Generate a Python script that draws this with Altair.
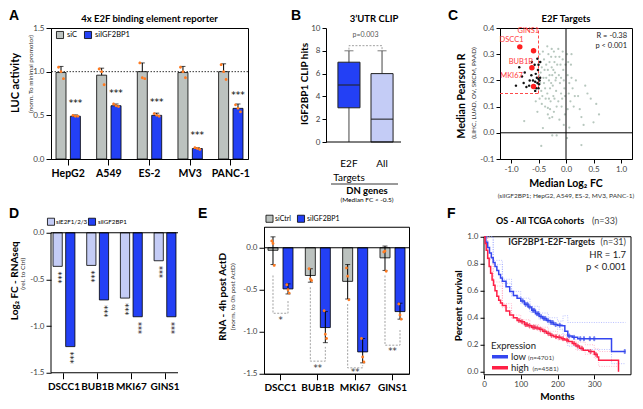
import altair as alt
import pandas as pd

FONT = "Lato"
LETTER_FONT = "Liberation Sans"
BLUE = "#2340f5"
GREY = "#bcc2bf"
LBLUE = "#c4ccf6"
ORANGE = "#ff7b22"
KM_BLUE = "#3446f0"
KM_RED = "#ff1f45"
MINUS = "replace(datum.label, '\u2212', '-')"

# ---------------- Panel A data ----------------
a_cells = ["HepG2", "A549", "ES-2", "MV3", "PANC-1"]
a_conds = ["siC", "siIGF2BP1"]
a_sic = [0.99, 0.96, 1.00, 0.99, 1.00]
a_sic_hi = [1.06, 1.04, 1.10, 1.06, 1.09]
a_sii = [0.49, 0.61, 0.50, 0.12, 0.58]
a_sii_hi = [0.505, 0.63, 0.525, 0.13, 0.63]
a_sic_reps = [[1.05, 1.00, 0.92], [1.03, 1.00, 0.85], [1.10, 0.93, 0.92], [1.05, 1.00, 0.93], [1.08, 1.00, 0.91]]
a_sii_reps = [[0.50, 0.49, 0.49], [0.63, 0.61, 0.60], [0.52, 0.50, 0.49], [0.13, 0.12, 0.11], [0.62, 0.58, 0.54]]
a_sig = ["***"] * 5

# ---------------- Panel B data ----------------
b_cats = ["E2F", "All"]
b_min = [0, 0]
b_q1 = [3, 0]
b_med = [5, 2]
b_q3 = [7, 6]
b_max = [8, 8]
b_bracket_low = 8.1
b_bracket_high = 8.45
b_p_text = "p=0.003"

# ---------------- Panel C data ----------------
c_grey = [
    (-0.48, 0.30), (-0.46, 0.27), (-0.44, 0.25), (-0.49, 0.22), (-0.47, 0.19), (-0.45, 0.16), (-0.43, 0.14),
    (-0.41, 0.21), (-0.40, 0.28), (-0.39, 0.24), (-0.38, 0.17), (-0.37, 0.13), (-0.42, 0.31), (-0.36, 0.26),
    (-0.44, 0.11), (-0.48, 0.13), (-0.40, 0.19), (-0.38, 0.10), (-0.46, 0.23), (-0.36, 0.21),
    (-0.34, 0.33), (-0.32, 0.30), (-0.30, 0.27), (-0.33, 0.24), (-0.31, 0.20), (-0.29, 0.17), (-0.34, 0.15),
    (-0.28, 0.12), (-0.27, 0.29), (-0.26, 0.25), (-0.25, 0.22), (-0.24, 0.18), (-0.23, 0.14), (-0.22, 0.31),
    (-0.21, 0.27), (-0.20, 0.23), (-0.19, 0.20), (-0.18, 0.16), (-0.17, 0.10), (-0.16, 0.26), (-0.29, 0.09),
    (-0.33, 0.07), (-0.25, 0.06), (-0.21, 0.13), (-0.30, 0.22), (-0.27, 0.19), (-0.23, 0.24), (-0.19, 0.29),
    (-0.26, 0.32), (-0.31, 0.13), (-0.22, 0.08), (-0.18, 0.21),
    (-0.14, 0.32), (-0.12, 0.29), (-0.10, 0.26), (-0.13, 0.22), (-0.11, 0.19), (-0.09, 0.15), (-0.14, 0.12),
    (-0.08, 0.10), (-0.06, 0.28), (-0.05, 0.24), (-0.04, 0.20), (-0.03, 0.17), (-0.07, 0.13), (-0.02, 0.07),
    (-0.06, 0.31), (-0.01, 0.26), (-0.12, 0.05), (-0.04, 0.03), (-0.09, 0.21), (-0.02, 0.14),
    (0.02, 0.30), (0.04, 0.27), (0.03, 0.22), (0.06, 0.19), (0.05, 0.15), (0.08, 0.12), (0.10, 0.21),
    (0.12, 0.17), (0.14, 0.10), (0.06, 0.02), (0.09, 0.26), (0.16, 0.14), (0.18, 0.20), (0.03, 0.09),
    (0.22, 0.14), (0.28, 0.06), (0.35, 0.18), (0.39, 0.15), (0.45, 0.13), (0.55, 0.11), (0.60, 0.07),
    (0.50, 0.04), (0.25, 0.09), (0.32, 0.03),
    (-0.76, 0.045), (-0.45, -0.05), (-0.30, 0.056), (-0.33, 0.095), (-0.42, 0.018), (-0.25, -0.01),
    (-0.17, -0.01), (0.28, -0.047), (-0.55, 0.12), (-0.52, 0.08), (-0.57, 0.17), (0.10, 0.30), (0.02, -0.02),
]
c_black = [
    (-0.52, 0.283), (-0.47, 0.27), (-0.50, 0.26), (-0.85, 0.25), (-0.51, 0.24), (-0.75, 0.23), (-0.80, 0.215),
    (-0.55, 0.225), (-0.53, 0.21), (-0.50, 0.205), (-0.48, 0.20), (-0.56, 0.195), (-0.52, 0.19), (-0.49, 0.185),
    (-0.58, 0.18), (-0.91, 0.18), (-0.77, 0.19), (-0.67, 0.18), (-0.56, 0.16), (-0.50, 0.17), (-0.60, 0.20),
    (-0.63, 0.22), (-0.72, 0.175), (-0.54, 0.17), (-0.47, 0.21), (-0.62, 0.27), (-0.57, 0.26), (-0.66, 0.20),
]
c_red_names = ["DSCC1", "GINS1", "BUB1B", "MKI67"]
c_red_x = [-0.84, -0.59, -0.62, -0.59]
c_red_y = [0.328, 0.313, 0.248, 0.177]
c_lab_x = [-0.99, -0.685, -0.82, -0.99]
c_lab_y = [0.354, 0.387, 0.272, 0.215]
c_fc_cut = -0.5
c_r_cut = 0.15

# ---------------- Panel D data ----------------
genes = ["DSCC1", "BUB1B", "MKI67", "GINS1"]
d_conds = ["siE2F1/2/3", "siIGF2BP1"]
d_e2f = [-0.36, -0.35, -0.70, -0.30]
d_igf = [-1.22, -0.72, -0.90, -0.90]

# ---------------- Panel E data ----------------
e_conds = ["siCtrl", "siIGF2BP1"]
e_ctrl = [-0.03, -0.33, -0.40, -0.12]
e_ctrl_lo = [-0.20, -0.41, -0.61, -0.27]
e_ctrl_hi = [0.13, -0.25, -0.20, 0.02]
e_igf = [-0.49, -0.95, -1.24, -0.76]
e_igf_lo = [-0.55, -1.13, -1.37, -0.85]
e_igf_hi = [-0.43, -0.76, -1.08, -0.66]
e_ctrl_reps = [[0.08, 0.05, -0.21], [-0.25, -0.37, -0.39], [-0.24, -0.34, -0.62], [-0.05, -0.04, -0.28]]
e_igf_reps = [[-0.44, -0.50, -0.54], [-0.75, -1.03, -1.08], [-1.08, -1.30, -1.36], [-0.67, -0.80, -0.85]]
e_br_left = [-0.33, -0.47, -0.67, -0.33]
e_br_bottom = [-0.78, -1.35, -1.43, -1.16]
e_br_right = [-0.62, -1.18, -1.40, -0.98]
e_sig = ["*", "**", "**", "**"]
e_sig_y = [-0.86, -1.43, -1.48, -1.23]

# ---------------- Panel F data ----------------
km_low_m = [0, 5, 10, 15, 20, 25, 30, 35, 40, 45, 50, 60, 70, 80, 90, 100, 110, 120, 130, 140, 150, 160, 170,
            180, 190, 200, 212, 220, 228, 240, 255, 347, 385]
km_low_s = [1.0, 0.96, 0.92, 0.88, 0.845, 0.81, 0.78, 0.75, 0.72, 0.695, 0.67, 0.63, 0.595, 0.565, 0.545, 0.525,
            0.50, 0.48, 0.455, 0.43, 0.41, 0.395, 0.38, 0.365, 0.35, 0.345, 0.34, 0.30, 0.265, 0.255, 0.245, 0.15, 0.15]
km_high_m = [0, 3, 6, 10, 14, 18, 22, 26, 30, 35, 40, 45, 50, 60, 70, 80, 90, 100, 110, 120, 130, 140, 150, 160,
             170, 180, 190, 200, 210, 220, 230, 240, 250, 260, 270, 285, 300, 308, 312, 366]
km_high_s = [1.0, 0.95, 0.90, 0.84, 0.78, 0.73, 0.68, 0.64, 0.60, 0.56, 0.53, 0.51, 0.49, 0.45, 0.42, 0.40, 0.38,
             0.37, 0.35, 0.34, 0.33, 0.325, 0.315, 0.30, 0.285, 0.27, 0.26, 0.255, 0.245, 0.235, 0.225, 0.21, 0.19,
             0.175, 0.16, 0.15, 0.13, 0.11, 0.085, 0.0]
ci_low_up_m = [0, 25, 50, 75, 100, 125, 150, 175, 200, 215, 228, 385]
ci_low_up_s = [1.0, 0.825, 0.685, 0.595, 0.545, 0.485, 0.435, 0.40, 0.375, 0.415, 0.365, 0.365]
ci_low_lo_m = [0, 25, 50, 75, 100, 125, 150, 175, 200, 215, 228, 255, 347, 385]
ci_low_lo_s = [1.0, 0.795, 0.655, 0.56, 0.505, 0.44, 0.385, 0.35, 0.315, 0.27, 0.19, 0.165, 0.06, 0.06]
ci_high_m = [0, 10, 25, 50, 75, 100, 125, 150, 175, 200, 225, 250, 275, 300, 312, 366]
ci_high_up_s = [1.0, 0.85, 0.665, 0.505, 0.42, 0.385, 0.35, 0.33, 0.30, 0.275, 0.255, 0.22, 0.20, 0.17, 0.15, 0.15]
ci_high_lo_s = [1.0, 0.83, 0.635, 0.475, 0.395, 0.355, 0.32, 0.295, 0.265, 0.235, 0.21, 0.16, 0.13, 0.10, 0.04, 0.0]
cens_low = [(105, .525), (113, .50), (118, .50), (124, .48), (133, .455), (137, .455), (144, .43), (148, .43),
            (155, .41), (163, .395), (167, .395), (174, .38), (183, .365), (187, .365), (195, .35), (206, .345),
            (232, .265), (245, .255), (262, .245), (272, .245), (288, .245), (300, .245), (383, .15)]
cens_high = [(95, .38), (104, .37), (113, .35), (117, .35), (124, .34), (134, .33), (138, .33), (145, .325),
             (154, .315), (165, .30), (175, .285), (184, .27), (196, .26), (205, .255), (215, .245), (226, .235),
             (245, .21), (255, .19), (266, .175), (290, .15), (304, .13)]
f_groups = ["low", "high"]
f_xmax = 400
f_ymin = -0.022
f_ytop = 1.074


# ---------------- helpers ----------------
def T(text, x, y, size=8, weight="normal", angle=0, align="center", baseline="middle", color="black", font=FONT):
    kw = dict(fontSize=size, fontWeight=weight, align=align, baseline=baseline, color=color, font=font)
    if angle:
        kw["angle"] = angle
    return alt.Chart(pd.DataFrame({"t": [text]})).mark_text(**kw).encode(
        x=alt.value(x), y=alt.value(y), text="t:N")


def SQ(x, y, fill, size=50):
    return alt.Chart(pd.DataFrame({"a": [0]})).mark_square(
        size=size, fill=fill, stroke="black", strokeWidth=0.8, opacity=1).encode(x=alt.value(x), y=alt.value(y))


def HL(x, x2, y, color, width=3.5):
    return alt.Chart(pd.DataFrame({"a": [0]})).mark_rule(color=color, strokeWidth=width).encode(
        x=alt.value(x), x2=alt.value(x2), y=alt.value(y))


def dot_shape(cx, r=0.36):
    # small circle drawn off-centre inside the symbol's unit box (horizontal jitter of replicate dots)
    return f"M {cx - r},0 A {r},{r} 0 1,0 {cx + r},0 A {r},{r} 0 1,0 {cx - r},0 Z"


# ================= Panel A =================
wA, hA = 197, 131
dfA = pd.DataFrame({
    "cell": a_cells * 2,
    "cond": ["siC"] * 5 + ["siIGF2BP1"] * 5,
    "v": a_sic + a_sii,
    "hi": a_sic_hi + a_sii_hi,
    "sig": [""] * 5 + a_sig,
})
dfA_rep = pd.DataFrame([
    {"cell": c, "cond": cond, "r": r, "v": reps[i][r]}
    for cond, reps in (("siC", a_sic_reps), ("siIGF2BP1", a_sii_reps))
    for i, c in enumerate(a_cells) for r in range(3)
])
xA = alt.X("cell:N", sort=a_cells, scale=alt.Scale(paddingInner=0.40, paddingOuter=0.123),
           axis=alt.Axis(title=None, labelAngle=0, labelFontSize=10.5, labelFontWeight="bold",
                         labelColor="black", tickSize=6, labelPadding=3))
xoA = alt.XOffset("cond:N", sort=a_conds, scale=alt.Scale(paddingInner=0.305))


def yA(f):
    return alt.Y(f + ":Q", scale=alt.Scale(domain=[0, 1.5], nice=False),
                 axis=alt.Axis(values=[0, 0.5, 1.0, 1.5], format=".1f", title=None, tickSize=5, labelPadding=2))


cA = alt.Color("cond:N", sort=a_conds, scale=alt.Scale(domain=a_conds, range=[GREY, BLUE]), legend=None)

A = alt.layer(
    alt.Chart(pd.DataFrame({"ref": [1.0]})).mark_rule(color="black", strokeWidth=0.8, strokeDash=[1.5, 1.5]).encode(y=yA("ref")),
    alt.Chart(dfA).mark_bar(stroke="black", strokeWidth=0.8).encode(x=xA, xOffset=xoA, y=yA("v"), y2=alt.datum(0), color=cA),
    alt.Chart(dfA).mark_rule(color="black", strokeWidth=1).encode(x=xA, xOffset=xoA, y=yA("v"), y2="hi:Q"),
    alt.Chart(dfA).mark_tick(color="black", thickness=1, size=5).encode(x=xA, xOffset=xoA, y=yA("hi")),
    *[alt.Chart(dfA_rep).transform_filter(alt.datum.r == r).mark_point(
        shape=dot_shape(cx), size=64, filled=True, color=ORANGE, opacity=1, strokeWidth=0).encode(
        x=xA, xOffset=xoA, y=yA("v"))
      for r, cx in zip(range(3), (-0.62, 0, 0.62))],
    alt.Chart(dfA).transform_filter(alt.datum.cond == "siIGF2BP1").transform_calculate(sy="datum.v + 0.15").mark_text(
        fontSize=9, font="DejaVu Sans", baseline="middle").encode(x=xA, xOffset=xoA, y=yA("sy"), text="sig:N"),
    SQ(9, 7, GREY), T("siC", 16, 7, size=7.5, align="left"),
    SQ(37, 7, BLUE), T("siIGF2BP1", 44, 7, size=7.5, align="left"),
    T("4x E2F binding element reporter", wA / 2, -9, size=9.5, weight="bold"),
    T("LUC activity", -35, 55, size=11, weight="bold", angle=270),
    T("(norm. To minimal promotor)", -20, 46, size=6.3, angle=270, color="#333"),
    T("A", -42, -19, size=14, weight="bold", align="left", baseline="top", font=LETTER_FONT),
).properties(width=wA, height=hA)

# ================= Panel B =================
wB, hB = 96, 114
dfB = pd.DataFrame({"cat": b_cats, "lo": b_min, "q1": b_q1, "med": b_med, "q3": b_q3, "hi": b_max})
dfB_br = pd.DataFrame({"cat": ["E2F", "E2F", "All", "All"],
                       "y": [b_bracket_low, b_bracket_high, b_bracket_high, b_bracket_low], "o": [0, 1, 2, 3]})
xB = alt.X("cat:N", sort=b_cats, scale=alt.Scale(range=[2, 77], paddingInner=0.333, paddingOuter=0.30),
           axis=alt.Axis(title=None, labelAngle=0, domain=False, ticks=False, labelPadding=16,
                         labelFontSize=10, labelColor="black"))


def yB(f):
    return alt.Y(f + ":Q", scale=alt.Scale(domain=[0, 10], nice=False),
                 axis=alt.Axis(values=[0, 2, 4, 6, 8, 10], title=None, tickSize=4, labelPadding=2))


B = alt.layer(
    alt.Chart(dfB).mark_rule(color="#444", strokeWidth=1).encode(x=xB, y=yB("lo"), y2="hi:Q"),
    alt.Chart(dfB).mark_bar(stroke="#222", strokeWidth=1).encode(
        x=xB, y=yB("q1"), y2="q3:Q",
        color=alt.Color("cat:N", scale=alt.Scale(domain=b_cats, range=[BLUE, LBLUE]), legend=None)),
    alt.Chart(dfB).mark_tick(color="#222", thickness=1.5, size=22).encode(x=xB, y=yB("med")),
    alt.Chart(dfB).mark_tick(color="#444", thickness=1, size=9).encode(x=xB, y=yB("hi")),
    alt.Chart(dfB_br).mark_line(color="#8a8a8a", strokeWidth=0.8, strokeDash=[2, 1.5]).encode(
        x=xB, y=yB("y"), order="o:Q"),
    alt.Chart(pd.DataFrame({"t": [b_p_text], "y": [9.4]})).mark_text(fontSize=7, color="#555").encode(
        x=alt.value(39.5), y=yB("y"), text="t:N"),
    alt.Chart(pd.DataFrame({"a": [0]})).mark_rule(color="black", strokeWidth=1).encode(
        y=alt.value(hB), x=alt.value(0), x2=alt.value(75)),
    T("Targets", 23, 150, size=10),
    HL(5, 72, 156, "black", width=0.8),
    T("DN genes", 41, 163, size=9.5, weight="bold"),
    T("(Median FC < -0.5)", 41, 172, size=6.5),
    T("3\u2019UTR CLIP", 48, -9, size=9.5, weight="bold"),
    T("IGF2BP1 CLIP hits", -21.5, 56, size=10, weight="bold", angle=270),
    T("B", -35, -19, size=14, weight="bold", align="left", baseline="top", font=LETTER_FONT),
).properties(width=wB, height=hB, view=alt.ViewBackground(stroke="transparent"))

# ================= Panel C =================
wC, hC = 132, 131
dfC_grey = pd.DataFrame(c_grey, columns=["x", "y"])
dfC_black = pd.DataFrame(c_black, columns=["x", "y"])
dfC_red = pd.DataFrame({"name": c_red_names, "x": c_red_x, "y": c_red_y, "lx": c_lab_x, "ly": c_lab_y})
dfC_box = pd.DataFrame({"x0": [-1.2], "x1": [c_fc_cut], "y0": [c_r_cut], "y1": [0.4]})


def xC(f):
    return alt.X(f + ":Q", scale=alt.Scale(domain=[-1.2, 1.2], nice=False),
                 axis=alt.Axis(values=[-1, -0.5, 0, 0.5, 1], format=".1f", labelExpr=MINUS, title=None,
                               tickSize=4, labelPadding=2))


def yC(f):
    return alt.Y(f + ":Q", scale=alt.Scale(domain=[-0.1, 0.4], nice=False),
                 axis=alt.Axis(values=[-0.1, 0, 0.1, 0.2, 0.3, 0.4], format=".1f", labelExpr=MINUS, title=None,
                               tickSize=4, labelPadding=2))


zero_df = pd.DataFrame({"z": [0.0]})
C = alt.layer(
    alt.Chart(dfC_grey).mark_circle(size=5, color="#aabdb3", opacity=0.85).encode(x=xC("x"), y=yC("y")),
    alt.Chart(zero_df).mark_rule(color="black", strokeWidth=1).encode(x=xC("z")),
    alt.Chart(zero_df).mark_rule(color="black", strokeWidth=1).encode(y=yC("z")),
    alt.Chart(dfC_box).mark_rule(color="#ff4a4a", strokeWidth=1, strokeDash=[3, 2]).encode(
        x=xC("x1"), y=yC("y0"), y2="y1:Q"),
    alt.Chart(dfC_box).mark_rule(color="#ff4a4a", strokeWidth=1, strokeDash=[3, 2]).encode(
        y=yC("y0"), x=xC("x0"), x2="x1:Q"),
    alt.Chart(dfC_black).mark_circle(size=6, color="#111", opacity=1).encode(x=xC("x"), y=yC("y")),
    alt.Chart(dfC_red).mark_circle(size=30, color="#ff1f1f", opacity=1).encode(x=xC("x"), y=yC("y")),
    alt.Chart(dfC_red).mark_text(fontSize=7.5, color="#ff3a3a").encode(x=xC("lx"), y=yC("ly"), text="name:N"),
    T("R = -0.38", wC - 5, 8, size=7.5, align="right", color="#222"),
    T("p < 0.001", wC - 5, 18, size=7.5, align="right", color="#222"),
    T("E2F Targets", wC / 2, -9, size=9.5, weight="bold"),
    T("Median Pearson R", -38, 68, size=10.5, weight="bold", angle=270),
    T("(LIHC, LUAD, OV, SKCM, PAAD)", -26, 65, size=6.5, angle=270, color="#333"),
    T("Median Log\u2082 FC", wC / 2, hC + 25, size=10.5, weight="bold"),
    T("(siIGF2BP1; HepG2, A549, ES-2, MV3, PANC-1)", wC / 2, hC + 37, size=6.5, color="#333"),
    T("C", -52, -19, size=14, weight="bold", align="left", baseline="top", font=LETTER_FONT),
).properties(width=wC, height=hC)

# ================= Panel D =================
wD, hD = 138, 146
d_top = 0.0643
dfD = pd.DataFrame({"gene": genes * 2, "cond": [d_conds[0]] * 4 + [d_conds[1]] * 4, "v": d_e2f + d_igf,
                    "sig": ["***"] * 8})
xD = alt.X("gene:N", sort=genes, scale=alt.Scale(range=[0, 127], paddingInner=0.35, paddingOuter=0.06),
           axis=alt.Axis(title=None, labelAngle=0, domain=False, tickSize=6, labelFontSize=10,
                         labelFontWeight="bold", labelColor="black", labelPadding=3))
xoD = alt.XOffset("cond:N", sort=d_conds, scale=alt.Scale(paddingInner=0.27))


def yD(f):
    return alt.Y(f + ":Q", scale=alt.Scale(domain=[-1.5, d_top], nice=False, zero=False),
                 axis=alt.Axis(values=[0, -0.5, -1.0, -1.5], format=".1f", labelExpr=MINUS, domain=False,
                               title=None, tickSize=5, labelPadding=2))


dfD_ax = pd.DataFrame({"a": [0.0], "b": [-1.5]})
D = alt.layer(
    alt.Chart(dfD).mark_bar(stroke="black", strokeWidth=0.8).encode(
        x=xD, xOffset=xoD, y=yD("v"), y2=alt.datum(0),
        color=alt.Color("cond:N", scale=alt.Scale(domain=d_conds, range=[LBLUE, BLUE]), legend=None)),
    alt.Chart(dfD).transform_calculate(sy="datum.v - 0.12").mark_text(
        fontSize=8, font="DejaVu Sans", angle=90, baseline="middle", dy=1).encode(
        x=xD, xOffset=xoD, y=yD("sy"), text="sig:N"),
    alt.Chart(dfD_ax).mark_rule(color="black", strokeWidth=1).encode(y=yD("a"), x=alt.value(0), x2=alt.value(127)),
    alt.Chart(dfD_ax).mark_rule(color="black", strokeWidth=1).encode(y=yD("b"), x=alt.value(0), x2=alt.value(127)),
    alt.Chart(dfD_ax).mark_rule(color="black", strokeWidth=1).encode(x=alt.value(0), y=yD("a"), y2="b:Q"),
    SQ(0, -5, LBLUE), T("siE2F1/2/3", 5, -5, size=6.2, align="left"),
    SQ(41, -5, BLUE), T("siIGF2BP1", 47, -5, size=6.2, align="left"),
    T("Log\u2082 FC - RNAseq", -36, 54, size=10, weight="bold", angle=270),
    T("(rel. to Ctrl)", -28, 47, size=6.5, angle=270, color="#333"),
    T("D", -42, -20, size=14, weight="bold", align="left", baseline="top", font=LETTER_FONT),
).properties(width=wD, height=hD, view=alt.ViewBackground(stroke="transparent"))

# ================= Panel E =================
wE, hE = 145, 147
dfE = pd.DataFrame({"gene": genes * 2, "cond": [e_conds[0]] * 4 + [e_conds[1]] * 4,
                    "v": e_ctrl + e_igf, "lo": e_ctrl_lo + e_igf_lo, "hi": e_ctrl_hi + e_igf_hi})
dfE_rep = pd.DataFrame([
    {"gene": g, "cond": cond, "r": r, "v": reps[i][r]}
    for cond, reps in ((e_conds[0], e_ctrl_reps), (e_conds[1], e_igf_reps))
    for i, g in enumerate(genes) for r in range(3)
])
br_rows = []
for i, g in enumerate(genes):
    br_rows += [dict(gene=g, cond=e_conds[0], y=e_br_left[i], o=0),
                dict(gene=g, cond=e_conds[0], y=e_br_bottom[i], o=1),
                dict(gene=g, cond=e_conds[1], y=e_br_bottom[i], o=2),
                dict(gene=g, cond=e_conds[1], y=e_br_right[i], o=3)]
dfE_br = pd.DataFrame(br_rows)
dfE_sig = pd.DataFrame({"gene": genes, "t": e_sig, "y": e_sig_y})
xE = alt.X("gene:N", sort=genes, scale=alt.Scale(paddingInner=0.33, paddingOuter=0.107),
           axis=alt.Axis(title=None, labelAngle=0, tickSize=6, labelFontSize=10, labelFontWeight="bold",
                         labelColor="black", labelPadding=3))
xoE = alt.XOffset("cond:N", sort=e_conds, scale=alt.Scale(paddingInner=0.333))


def yE(f):
    return alt.Y(f + ":Q", scale=alt.Scale(domain=[-1.5, 0.25], nice=False, zero=False),
                 axis=alt.Axis(values=[0, -0.5, -1.0, -1.5], format=".1f", labelExpr=MINUS,
                               title=None, tickSize=5, labelPadding=2))


E = alt.layer(
    alt.Chart(dfE).mark_bar(stroke="black", strokeWidth=0.8).encode(
        x=xE, xOffset=xoE, y=yE("v"), y2=alt.datum(0),
        color=alt.Color("cond:N", scale=alt.Scale(domain=e_conds, range=[GREY, BLUE]), legend=None)),
    alt.Chart(zero_df).mark_rule(color="black", strokeWidth=1).encode(y=yE("z")),
    alt.Chart(dfE_br).mark_line(color="#8a8a8a", strokeWidth=0.8, strokeDash=[2, 1.5]).encode(
        x=xE, xOffset=xoE, y=yE("y"), detail="gene:N", order="o:Q"),
    alt.Chart(dfE).mark_rule(color="black", strokeWidth=1).encode(x=xE, xOffset=xoE, y=yE("lo"), y2="hi:Q"),
    alt.Chart(dfE).mark_tick(color="black", thickness=1, size=5).encode(x=xE, xOffset=xoE, y=yE("lo")),
    alt.Chart(dfE).mark_tick(color="black", thickness=1, size=5).encode(x=xE, xOffset=xoE, y=yE("hi")),
    *[alt.Chart(dfE_rep).transform_filter(alt.datum.r == r).mark_point(
        shape=dot_shape(cx), size=64, filled=True, color=ORANGE, opacity=1, strokeWidth=0).encode(
        x=xE, xOffset=xoE, y=yE("v"))
      for r, cx in zip(range(3), (-0.3, 0, 0.3))],
    alt.Chart(dfE_sig).mark_text(fontSize=8.5, font="DejaVu Sans", color="#333").encode(
        x=xE, y=yE("y"), text="t:N"),
    SQ(5.5, -8, GREY), T("siCtrl", 11, -8, size=7, align="left"),
    SQ(37, -8, BLUE), T("siIGF2BP1", 43, -8, size=7, align="left"),
    T("RNA - 4h post ActD", -41, 70, size=10, weight="bold", angle=270),
    T("(norm. to 0h post ActD)", -31, 70, size=6.5, angle=270, color="#333"),
    T("E", -66, -20, size=14, weight="bold", align="left", baseline="top", font=LETTER_FONT),
).properties(width=wE, height=hE)

# ================= Panel F =================
wF, hF = 147, 148
dfF = pd.DataFrame({"g": ["low"] * len(km_low_m) + ["high"] * len(km_high_m),
                    "m": km_low_m + km_high_m, "s": km_low_s + km_high_s})
dfF_ci = pd.DataFrame({
    "k": (["low_up"] * len(ci_low_up_m) + ["low_lo"] * len(ci_low_lo_m) +
          ["high_up"] * len(ci_high_m) + ["high_lo"] * len(ci_high_m)),
    "g": (["low"] * (len(ci_low_up_m) + len(ci_low_lo_m)) + ["high"] * (2 * len(ci_high_m))),
    "m": ci_low_up_m + ci_low_lo_m + ci_high_m + ci_high_m,
    "s": ci_low_up_s + ci_low_lo_s + ci_high_up_s + ci_high_lo_s,
})
dfF_cens = pd.DataFrame({"g": ["low"] * len(cens_low) + ["high"] * len(cens_high),
                         "m": [p[0] for p in cens_low + cens_high], "s": [p[1] for p in cens_low + cens_high]})


def xF(f):
    return alt.X(f + ":Q", scale=alt.Scale(domain=[0, f_xmax], nice=False),
                 axis=alt.Axis(values=[0, 100, 200, 300], title=None, domain=False, tickSize=4, labelPadding=2))


def yF(f):
    return alt.Y(f + ":Q", scale=alt.Scale(domain=[f_ymin, f_ytop], nice=False, zero=False),
                 axis=alt.Axis(values=[0, 0.2, 0.4, 0.6, 0.8, 1.0], format=".1f", domain=False, title=None,
                               tickSize=4, labelPadding=2))


F = alt.layer(
    alt.Chart(pd.DataFrame({"x0": [0], "x1": [f_xmax], "y0": [1.0], "y1": [f_ymin]})).mark_rect(
        fillOpacity=0, stroke="black", strokeWidth=1).encode(x=xF("x0"), x2="x1:Q", y=yF("y0"), y2="y1:Q"),
    alt.Chart(dfF_ci).mark_line(interpolate="step-after", strokeWidth=0.7, strokeDash=[1, 1.4], opacity=0.85).encode(
        x=xF("m"), y=yF("s"), detail="k:N",
        color=alt.Color("g:N", scale=alt.Scale(domain=f_groups, range=["#8d97ff", "#ff8fae"]), legend=None)),
    alt.Chart(dfF).mark_line(interpolate="step-after", strokeWidth=1.5).encode(
        x=xF("m"), y=yF("s"), detail="g:N",
        stroke=alt.Stroke("g:N", scale=alt.Scale(domain=f_groups, range=[KM_BLUE, KM_RED]), legend=None)),
    alt.Chart(dfF_cens).mark_tick(orient="vertical", size=4, thickness=1).encode(
        x=xF("m"), y=yF("s"),
        stroke=alt.Stroke("g:N", scale=alt.Scale(domain=f_groups, range=[KM_BLUE, KM_RED]), legend=None)),
    T("IGF2BP1-E2F-Targets", 111, 15, size=9, weight="bold", align="right", color="#222"),
    T("(n=31)", 142, 15, size=9, align="right", color="#444"),
    T("HR = 1.7", 142, 28, size=9.5, align="right", color="#222"),
    T("p < 0.001", 142, 40, size=9.5, align="right", color="#222"),
    T("Expression", 7, 119, size=9.5, align="left", color="#222"),
    HL(8, 24, 130, KM_BLUE), T("low", 27, 130, size=9.5, align="left", color="#222"),
    T("(n=4701)", 44, 131, size=6.5, align="left", color="#444"),
    HL(8, 24, 141, KM_RED), T("high", 27, 141, size=9.5, align="left", color="#222"),
    T("(n=4581)", 48.5, 142, size=6.5, align="left", color="#444"),
    T("OS - All TCGA cohorts", 12, -6, size=9, weight="bold", align="left"),
    T("(n=33)", 108, -6, size=9, align="left", color="#444"),
    T("Percent survival", -25, 79, size=10, weight="bold", angle=270),
    T("Months", wF / 2, 170, size=10, weight="bold"),
    T("F", -37, -20, size=14, weight="bold", align="left", baseline="top", font=LETTER_FONT),
).properties(width=wF, height=hF, view=alt.ViewBackground(stroke="transparent"))

# ================= Layout =================
row1 = alt.hconcat(A, B, C, spacing=78, bounds="flush").resolve_scale(
    color="independent", xOffset="independent", stroke="independent")
row2 = alt.hconcat(D, E, F, spacing=75, bounds="flush").resolve_scale(
    color="independent", xOffset="independent", stroke="independent")
chart = alt.vconcat(row1, row2, spacing=1.75).resolve_scale(
    color="independent", xOffset="independent", stroke="independent"
).properties(padding=0).configure(font=FONT).configure_view(
    stroke="black", strokeWidth=1
).configure_axis(
    labelFont=FONT, labelFontSize=8, labelColor="#444", tickColor="black", domainColor="black",
    tickWidth=1, domainWidth=1, grid=False, labelFlush=False, labelOverlap=False
)

chart.save("out.html", embed_options={"renderer": "svg", "actions": False})
